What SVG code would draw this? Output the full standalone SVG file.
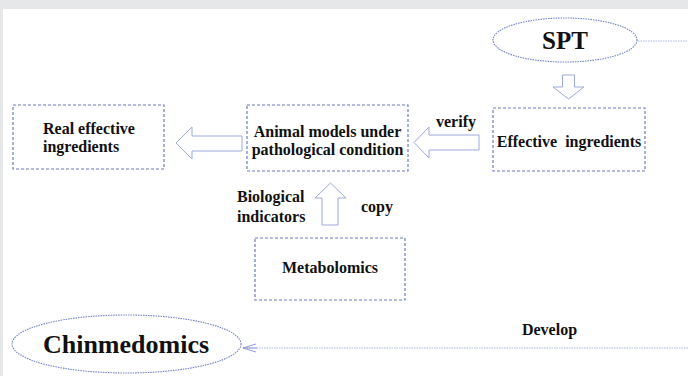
<svg xmlns="http://www.w3.org/2000/svg" width="688" height="376" viewBox="0 0 688 376">
<style>
.bg{fill:#e6e7e9}
.box{fill:none;stroke:#6b7cc4;stroke-width:1.2;stroke-dasharray:3 2}
.ell{fill:none;stroke:#6f80c6;stroke-width:1.1;stroke-dasharray:1.5 1}
.arr{fill:#fff;stroke:#9ea9dc;stroke-width:1}
.dot{fill:none;stroke:#a9b5e3;stroke-width:1;stroke-dasharray:1.5 1}
.ah{fill:none;stroke:#8d9ad6;stroke-width:1}
.t{font-family:'Liberation Serif','Tinos','Times New Roman','DejaVu Serif',serif;font-weight:bold;fill:#111;font-size:16px}
.big{font-size:25px}
.huge{font-size:26px}
</style>
<rect x="0" y="0" width="688" height="376" fill="#fff"/>
<rect class="bg" x="0" y="0" width="688" height="9"/>
<rect class="bg" x="0" y="0" width="3" height="376"/>

<g id="connectors">
  <path class="dot" d="M638 41 H688"/>
  <path class="dot" d="M244 348 H688"/>
  <path class="ah" d="M243 348 L256 344 M243 348 L257 348 M243 348 L256 352"/>
  <path id="arrow-down" class="arr" d="M562.5 75 H574.5 V87 H584 L568.5 99 L553 87 H562.5 Z"/>
  <path id="arrow-verify" class="arr" d="M479 135 V150 H429 V158 L414 142.5 L429 127 V135 Z"/>
  <path id="arrow-left" class="arr" d="M242 136 V151 H192 V159 L176 143 L192 127 V136 Z"/>
  <path id="arrow-up" class="arr" d="M322 225 V198 H315 L330.5 183 L346 198 H338 V225 Z"/>
  <text class="t" x="436" y="127">verify</text>
  <text class="t" x="237" y="202">Biological</text>
  <text class="t" x="237" y="222">indicators</text>
  <text class="t" x="361" y="212">copy</text>
  <text class="t" x="549.5" y="335" text-anchor="middle">Develop</text>
</g>

<g id="spt">
  <ellipse class="ell" cx="565" cy="40" rx="72" ry="22"/>
  <text class="t big" x="565" y="49" text-anchor="middle">SPT</text>
</g>

<g id="effective">
  <rect class="box" x="493" y="108" width="152" height="63"/>
  <text class="t" x="569" y="147" text-anchor="middle" xml:space="preserve">Effective  ingredients</text>
</g>

<g id="animal">
  <rect class="box" x="247" y="105" width="161" height="66"/>
  <text class="t" x="327.5" y="137" text-anchor="middle">Animal models under</text>
  <text class="t" x="327.5" y="155" text-anchor="middle">pathological condition</text>
</g>

<g id="real">
  <rect class="box" x="13" y="105" width="151" height="64"/>
  <text class="t" x="43" y="134">Real effective</text>
  <text class="t" x="43" y="152">ingredients</text>
</g>

<g id="metabolomics">
  <rect class="box" x="255" y="238" width="150" height="62"/>
  <text class="t" x="330" y="273" text-anchor="middle">Metabolomics</text>
</g>

<g id="chinmedomics">
  <ellipse class="ell" cx="126.5" cy="344" rx="114.5" ry="29"/>
  <text class="t huge" x="126" y="353" text-anchor="middle">Chinmedomics</text>
</g>
</svg>
